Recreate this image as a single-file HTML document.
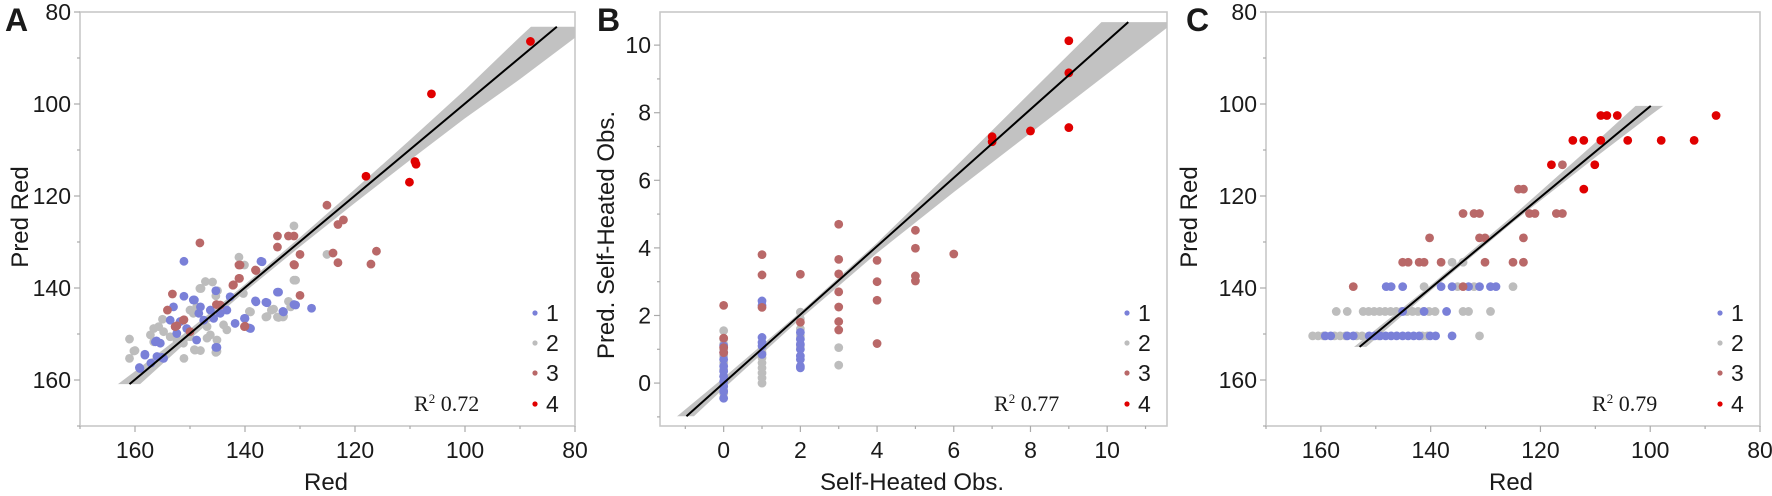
<!DOCTYPE html>
<html><head><meta charset="utf-8"><style>
html,body{margin:0;padding:0;background:#fff;}
svg{display:block;}
text{font-family:"Liberation Sans",sans-serif;fill:#1a1a1a;}
.serif{font-family:"Liberation Serif",serif;}
</style></head><body>
<svg id="chart" width="1772" height="496" viewBox="0 0 1772 496" xmlns="http://www.w3.org/2000/svg"></svg>
<script>
// ---------- Panel A data ----------
const aX1=[151.1,137.1,145.3,151.1,149.2,134.1,138.1,136.2,131.1,133.1,127.9,140.1,139.2,145.3,158.2,159.2,157.1,155.1,156.1,149.4,148.1,148.4,146.3,144.5,143.3,142.7,153,153.6,151.8,150.6,156.3,155.4,152.4,148.8,158.2,156,154.8,159.1,145.1,141.8,140,138,136,133.9,133,130.8,139,136.9,147.5,145.7];
const aY1=[134.2,134.2,140.6,141.8,142.6,140.9,142.8,143.1,143.6,145.1,144.4,146.6,148.7,152.9,154.4,157.3,156.3,155.1,151.5,142.6,144.1,145.5,144.8,145.5,144.8,141.9,144.1,147,147.3,148.8,151.7,152,149.9,151.3,154.6,154.9,155.3,157.5,152.9,147.7,146.6,143,143.2,140.9,145.2,143.7,148.8,134.3,147,146.6];
const aX2=[131.1,125.1,131.1,141.1,140.1,147.2,148.2,145.3,139.2,135.2,136.2,134.1,133.1,132.1,161,160.2,161,151.1,145.3,149.2,160,148,145.9,145,155,156.6,157.2,154.8,150,148.8,146.9,146.9,145.1,149.1,148.1,145.1,139,136,133.9,133,134.8,131.7,130.8,143.9,143.3,152.4,151.2,153.6,156.6,150,146.3,155.7,149.4,140.3];
const aY2=[126.5,132.7,138.3,133.3,135,138.6,140.1,141.7,145.1,144.8,146.3,146.3,146.3,142.9,151.1,153.7,155.3,155.3,154,153.4,153.6,140.1,138.7,140.6,146.8,148.8,150.2,149.5,144.8,144.1,148.4,150.9,151.3,153.5,153.6,153.8,145.2,146.2,146.4,146.2,144.6,144.1,138.3,148,149.1,151.3,152,150.6,151.7,150.6,150.2,148.4,145.5,141.2];
const aX3=[125.1,122.1,123.1,124,123.1,116.1,117.1,134.1,134.1,132.1,131.1,130,131.1,130,138.1,141.1,141.1,142.2,148.2,153.2,154.1,140.1,152.4,151.1,145.2,151.2,152.7,150,144.5,142.1,141,140,140.9,138,131];
const aY3=[122,125.2,126.2,132.4,134.5,132,134.8,128.7,131.1,128.7,128.7,132.7,134.9,141.6,136.1,135,137.9,139.4,130.2,141.3,144.8,148.4,148.2,146.9,143.6,147,148.4,149.5,143.7,139.3,137.9,148.3,135,136.2,135];
const aX4=[88.1,106.1,109.1,108.9,110.1,118.0];
const aY4=[86.4,97.8,112.5,113.1,117,115.7];
const aLineX=[161,83.3];
const aLineY=[160.9,83.2];
const aBandX=[164,160,150,140,130,120,110,100,90,80,76];
const aBandH=[2.3,1.9,1.1,0.8,1.0,1.5,2.2,3.1,4.6,5.6,6.0];
const aXTicks=["160","140","120","100","80"];
const aYTicks=["80","100","120","140","160"];

// ---------- Panel B data ----------
const bX1=[0,0,0,0,0,0,0,0,0,0,1,1,1,1,1,1,2,2,2,2,2,2,2,2];
const bY1=[1.1,0.9,0.7,0.5,0.35,0.2,0.05,-0.1,-0.25,-0.45,2.43,2.3,1.35,1.2,1.1,0.85,1.5,1.3,1.0,0.8,0.7,0.5,0.45,1.15];
const bX2=[0,0,0,0,0,0,0,0,0,0,0,1,1,1,1,1,1,1,1,2,2,2,2,2,3,3];
const bY2=[1.55,1.3,1.15,1.0,0.8,0.6,0.4,0.2,0,-0.2,-0.3,1.0,0.9,0.75,0.6,0.45,0.3,0.15,0,2.1,1.9,1.6,1.4,1.1,1.05,0.53];
const bX3=[0,0,0,0,1,1,1,2,2,3,3,3,3,3,3,3,4,4,4,4,5,5,5,5,6];
const bY3=[2.3,1.33,1.05,0.9,3.8,3.2,2.24,3.22,1.8,4.7,3.66,3.23,2.7,2.25,1.82,1.57,3.63,3.0,2.45,1.17,4.52,3.99,3.17,3.02,3.82];
const bX4=[9,9,9,8,7,7];
const bY4=[10.13,9.18,7.56,7.46,7.29,7.14];
const bLineX=[-0.97,10.55];
const bLineY=[-0.98,10.68];
const bBandX=[-2,0,2,4,6,8,10,12];
const bBandH=[0.28,0.16,0.1,0.15,0.35,0.6,0.85,1.1];
const bXTicks=["0","2","4","6","8","10"];
const bYTicks=["0","2","4","6","8","10"];

// ---------- Panel C data ----------
const cX2=[136.1,134.1,141.2,135.1,132.1,125,157.2,155.2,152.3,151.3,150.3,149.3,148.3,147.3,146.3,145.3,144.3,143.3,142.3,141.3,140.3,139.2,134.1,133.1,129.1,161.5,160.5,159.5,157.5,156.5,155.5,153.5,152.5,149.5,141.5,140.6,131.1];
const cY2=[134.4,134.4,139.7,139.7,139.7,139.7,145.1,145.1,145.1,145.1,145.1,145.1,145.1,145.1,145.1,145.1,145.1,145.1,145.1,145.1,145.1,145.1,145.1,145.1,145.1,150.4,150.4,150.4,150.4,150.4,150.4,150.4,150.4,150.4,150.4,150.4,150.4];
const cX1=[148.1,147.2,145.1,138.1,136.1,133.1,131.1,129.1,128.1,145.1,141.2,137.1,159.2,158.2,155.2,154.1,151.2,150.2,149.2,148.2,147.2,146.2,145.1,144.1,143.1,142.1,140.1,139.1,136.1];
const cY1=[139.7,139.7,139.7,139.7,139.7,139.7,139.7,139.7,139.7,145.1,145.1,145.1,150.4,150.4,150.4,150.4,150.4,150.4,150.4,150.4,150.4,150.4,150.4,150.4,150.4,150.4,150.4,150.4,150.4];
const cX3=[116,124,123.1,134.1,132.1,131.1,122,121,117.1,116,140.2,131.1,130.1,123.1,145.1,144.1,142.1,141.2,138.1,130.1,125,123.1,154.1,134.1];
const cY3=[113.2,118.5,118.5,123.8,123.8,123.8,123.8,123.8,123.8,123.8,129.1,129.1,129.1,129.1,134.4,134.4,134.4,134.4,134.4,134.4,134.4,134.4,139.7,139.7];
const cX4=[109,107.9,106,88,114.1,112.1,109,104.1,98,92,118,110.1,112.1];
const cY4=[102.5,102.5,102.5,102.5,107.9,107.9,107.9,107.9,107.9,107.9,113.2,113.2,118.5];
const cLineX=[152.95,99.9];
const cLineY=[152.8,100.4];
const cBandX=[160,155,140,125,110,100,94];
const cBandH=[1.5,1.2,0.6,0.7,1.6,2.5,3.2];
const cXTicks=["160","140","120","100","80"];
const cYTicks=["80","100","120","140","160"];

const NS="http://www.w3.org/2000/svg";
const svg=document.getElementById('chart');
const COLORS=["#7a80d8","#bdbdbd","#b96868","#e00000"];
function mk(tag,attrs,parent){const e=document.createElementNS(NS,tag);for(const k in attrs)e.setAttribute(k,attrs[k]);(parent||svg).appendChild(e);return e;}

function panel(cfg){
  const g=mk('g',{});
  
  
  const sx=v=>cfg.x0+(v-cfg.xd[0])/(cfg.xd[1]-cfg.xd[0])*(cfg.x1-cfg.x0);
  const sy=v=>cfg.y0+(v-cfg.yd[0])/(cfg.yd[1]-cfg.yd[0])*(cfg.y1-cfg.y0);
  const cid='clip-'+cfg.letter;
  const defs=mk('defs',{},g);
  const cp=mk('clipPath',{id:cid},defs);
  mk('rect',{x:cfg.x0,y:cfg.y0,width:cfg.x1-cfg.x0,height:cfg.y1-cfg.y0},cp);
  const bid='bclip-'+cfg.letter;
  const bcp=mk('clipPath',{id:bid},defs);
  const ya=sy(cfg.lineY[0]),yb=sy(cfg.lineY[1]);
  mk('rect',{x:cfg.x0,y:Math.min(ya,yb),width:cfg.x1-cfg.x0,height:Math.abs(ya-yb)},bcp);
  // frame
  const fr=mk('rect',{x:cfg.x0,y:cfg.y0,width:cfg.x1-cfg.x0,height:cfg.y1-cfg.y0,fill:'none',stroke:'#c8c8c8','stroke-width':1.6},g);
  
  
  // ticks
  const tg=mk('g',{},g);
  
  
  cfg.xMinor.forEach(v=>{mk('line',{x1:sx(v),x2:sx(v),y1:cfg.y1,y2:cfg.y1+3,stroke:'#aaa','stroke-width':1.2},tg);});
  cfg.yMinor.forEach(v=>{mk('line',{y1:sy(v),y2:sy(v),x1:cfg.x0,x2:cfg.x0-3,stroke:'#aaa','stroke-width':1.2},tg);});
  cfg.xTicks.forEach(s=>{const v=+s;const X=sx(v);
    mk('line',{x1:X,x2:X,y1:cfg.y1,y2:cfg.y1+6,stroke:'#aaa','stroke-width':1.2},tg);
    const t=mk('text',{x:X,y:458,'text-anchor':'middle','font-size':23},g);t.textContent=s;
    
    });
  cfg.yTicks.forEach(s=>{const v=+s;const Y=sy(v);
    mk('line',{y1:Y,y2:Y,x1:cfg.x0,x2:cfg.x0-6,stroke:'#aaa','stroke-width':1.2},tg);
    const t=mk('text',{x:cfg.x0-9,y:Y+8,'text-anchor':'end','font-size':23},g);t.textContent=s;
    
    });
  // band
  const up=[],lo=[];
  cfg.bandX.forEach((v,i)=>{up.push(sx(v)+','+sy(v-cfg.bandH[i]*cfg.dir));lo.push(sx(v)+','+sy(v+cfg.bandH[i]*cfg.dir));});
  const bg=mk('g',{'clip-path':'url(#'+cid+')'},g);
  const bg2=mk('g',{'clip-path':'url(#'+bid+')'},bg);
  const band=mk('polygon',{points:up.concat(lo.reverse()).join(' '),fill:'#c2c2c2'},bg2);
  
  
  // points
  const pg=mk('g',{'clip-path':'url(#'+cid+')'},g);
  cfg.series.forEach(s=>{
    const sg=mk('g',{},pg);
    
    
    s.xs.forEach((v,i)=>{const c=mk('circle',{cx:sx(v),cy:sy(s.ys[i]),r:4.4,fill:COLORS[s.grp-1]},sg);
      
      });
  });
  // fit line
  const ln=mk('line',{x1:sx(cfg.lineX[0]),y1:sy(cfg.lineY[0]),x2:sx(cfg.lineX[1]),y2:sy(cfg.lineY[1]),stroke:'#000','stroke-width':2},g);
  
  
  // titles
  const xt=mk('text',{x:cfg.xTitleX,y:490,'text-anchor':'middle','font-size':24},g);xt.textContent=cfg.xTitle;
  
  
  const ytx=cfg.yTitleX,yty=cfg.yTitleY;
  const yt=mk('text',{x:ytx,y:yty,'text-anchor':'middle','font-size':24,transform:'rotate(-90 '+ytx+' '+yty+')'},g);yt.textContent=cfg.yTitle;
  
  
  const pl=mk('text',{x:cfg.letterX,y:31,'font-size':32,'font-weight':'bold'},g);pl.textContent=cfg.letter;
  
  
  // legend
  const lg=mk('g',{},g);
  
  
  [313,343,373,404].forEach((Y,i)=>{
    const e=mk('g',{},lg);
    
    
    mk('circle',{cx:cfg.legX,cy:Y,r:2.6,fill:COLORS[i]},e);
    const t=mk('text',{x:cfg.legX+11,y:Y+8,'font-size':23},e);t.textContent=String(i+1);
  });
  const r=mk('text',{x:cfg.r2X,y:411,'font-size':22,class:'serif'},g);
  r.innerHTML='R<tspan dy="-8" font-size="13">2</tspan><tspan dy="8"> '+cfg.r2+'</tspan>';
  
  
}

panel({name:'panel-a',letter:'A',letterX:5,x0:80,x1:575,y0:12,y1:426,xd:[170,80],yd:[80,170],dir:1,
  xTicks:aXTicks,yTicks:aYTicks,xMinor:[170,150,130,110,90],yMinor:[90,110,130,150,170],
  bandX:aBandX,bandH:aBandH,lineX:aLineX,lineY:aLineY,
  series:[{grp:2,xs:aX2,ys:aY2},{grp:1,xs:aX1,ys:aY1},{grp:3,xs:aX3,ys:aY3},{grp:4,xs:aX4,ys:aY4}],
  xTitle:'Red',xTitleX:326,yTitle:'Pred Red',yTitleX:28,yTitleY:217,legX:535,r2X:414,r2:'0.72'});
panel({name:'panel-b',letter:'B',letterX:597,x0:660,x1:1167,y0:12,y1:426,xd:[-1.66,11.56],yd:[10.98,-1.27],dir:-1,
  xTicks:bXTicks,yTicks:bYTicks,xMinor:[-1,1,3,5,7,9,11],yMinor:[-1,1,3,5,7,9],
  bandX:bBandX,bandH:bBandH,lineX:bLineX,lineY:bLineY,
  series:[{grp:2,xs:bX2,ys:bY2},{grp:1,xs:bX1,ys:bY1},{grp:3,xs:bX3,ys:bY3},{grp:4,xs:bX4,ys:bY4}],
  xTitle:'Self-Heated Obs.',xTitleX:912,yTitle:'Pred. Self-Heated Obs.',yTitleX:614,yTitleY:235,legX:1127,r2X:994,r2:'0.77'});
panel({name:'panel-c',letter:'C',letterX:1186,x0:1266,x1:1760,y0:12,y1:426,xd:[170,80],yd:[80,170],dir:1,
  xTicks:cXTicks,yTicks:cYTicks,xMinor:[170,150,130,110,90],yMinor:[90,110,130,150,170],
  bandX:cBandX,bandH:cBandH,lineX:cLineX,lineY:cLineY,
  series:[{grp:2,xs:cX2,ys:cY2},{grp:1,xs:cX1,ys:cY1},{grp:3,xs:cX3,ys:cY3},{grp:4,xs:cX4,ys:cY4}],
  xTitle:'Red',xTitleX:1511,yTitle:'Pred Red',yTitleX:1197,yTitleY:217,legX:1720,r2X:1592,r2:'0.79'});
</script>
</body></html>
